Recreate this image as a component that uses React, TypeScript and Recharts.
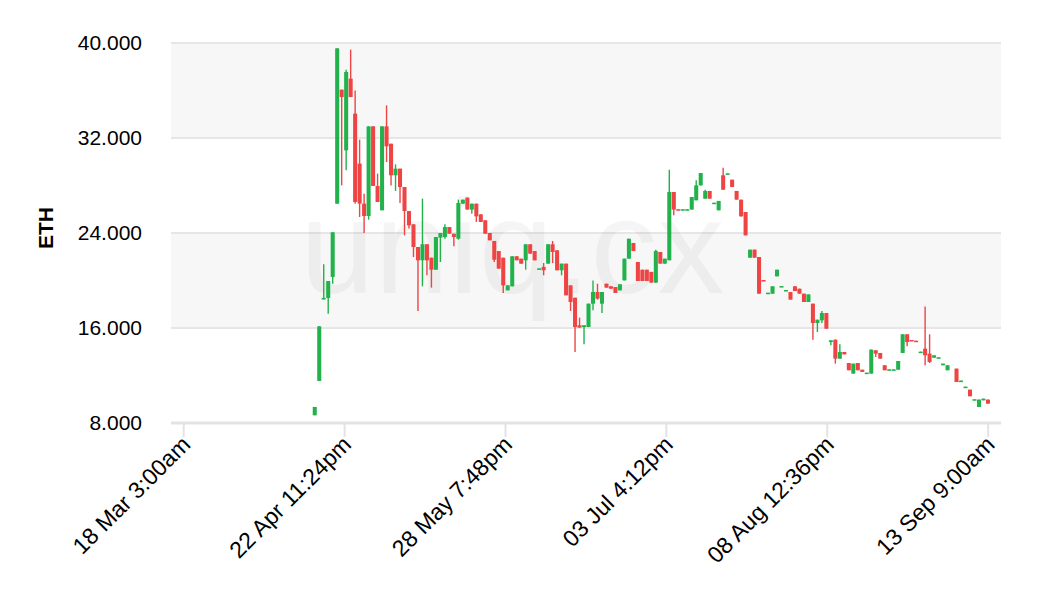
import { ComposedChart, Bar, XAxis, YAxis, CartesianGrid, ReferenceArea, Label } from 'recharts'

// candle days, counted from 18 Mar 3:00am (each candle sits at 9:00am)
const days = [
  29, 30, 31, 32, 33, 34, 35, 36, 37, 38, 39, 40, 41, 42, 43, 44, 45, 46, 47, 48,
  49, 50, 51, 52, 53, 54, 55, 56, 57, 58, 59, 60, 61, 62, 63, 64, 65, 66, 67, 68,
  69, 70, 71, 72, 73, 74, 75, 76, 77, 78, 79, 80, 81, 82, 83, 84, 85, 86, 87, 88,
  89, 90, 91, 92, 93, 94, 95, 96, 97, 98, 99, 100, 101, 102, 103, 104, 105, 106, 107, 108,
  109, 110, 111, 112, 113, 114, 115, 116, 117, 118, 119, 120, 121, 122, 123, 124, 125, 126, 127, 128,
  129, 130, 131, 132, 133, 134, 135, 136, 137, 138, 139, 140, 141, 142, 143, 144, 145, 146, 147, 148,
  149, 150, 151, 152, 153, 154, 155, 156, 157, 158, 159, 160, 161, 162, 163, 164, 165, 166, 167, 168,
  169, 170, 172, 173, 174, 175, 176, 177, 178, 179,
]

const opens = [
  8650, 11540, 18450, 18530, 20300, 26470, 36070, 30960, 37000, 34050, 29840, 26470, 25430, 32980, 27960, 25910, 32980, 31520, 28860, 29420,
  27870, 25850, 24730, 22820, 21700, 23050, 21920, 20910, 23610, 23660, 24500, 23940, 23520, 26470, 26980, 25970, 26470, 25570, 25070, 24000,
  23330, 22480, 21920, 19170, 19510, 22040, 21840, 21700, 23050, 22480, 20970, 21140, 21420, 23050, 22540, 20860, 21420, 19590, 18550, 16230,
  16080, 16080, 18050, 19030, 18050, 19730, 19510, 19450, 19170, 20010, 21840, 23160, 21560, 20910, 20910, 20720, 19820, 22400, 21420, 21700,
  27450, 26000, 25940, 25940, 25970, 26750, 28010, 26890, 27540, 26500, 25910, 28860, 28970, 28490, 27540, 26810, 25770, 21920, 22600, 21980,
  20040, 18920, 18890, 20350, 19480, 19150, 19030, 19510, 19310, 18890, 18190, 18050, 16420, 16650, 17260, 14820, 15020, 13420, 13980, 13050,
  12160, 13050, 12490, 12190, 12160, 14120, 13900, 12860, 12470, 12470, 12490, 13900, 15470, 14990, 14930, 13960, 14260, 13840, 13500, 13480,
  12860, 12440, 12580, 11520, 11010, 10810, 9950, 9350, 9910, 9970,
]

const highs = [
  9350, 16140, 21360, 19960, 24060, 39550, 36070, 37750, 39440, 36010, 31860, 27310, 32980, 32980, 29000, 32980, 34750, 31520, 29780, 29420,
  27870, 25850, 24730, 22820, 26890, 23050, 21920, 23660, 24000, 24730, 24500, 23940, 26810, 26810, 26980, 26470, 26470, 25570, 25070, 24000,
  23330, 22480, 21920, 19590, 22040, 22040, 21840, 23050, 23050, 22480, 21020, 21470, 23050, 23330, 22540, 21420, 21420, 19590, 18550, 16870,
  16230, 18050, 20010, 19730, 19030, 19730, 19510, 19450, 19680, 21840, 23520, 23160, 21560, 20910, 20910, 20720, 22600, 22400, 21840, 29330,
  27450, 26000, 26000, 26000, 27030, 28440, 29050, 27650, 27540, 26550, 26700, 29500, 29020, 28490, 27540, 26810, 25770, 22600, 22600, 21980,
  20040, 18970, 19510, 20910, 19530, 19200, 19030, 19510, 19310, 18890, 18830, 18050, 16700, 17430, 17260, 14960, 15020, 14630, 13980, 13050,
  13000, 13050, 12490, 12240, 14180, 14120, 13900, 12860, 12520, 12520, 13220, 15470, 15470, 14990, 14930, 14010, 17820, 15470, 13700, 13530,
  13000, 12860, 12580, 11570, 11060, 10810, 10000, 9970, 10050, 9970,
]

const lows = [
  8650, 11540, 18390, 17210, 19730, 26470, 28010, 29280, 35450, 26470, 25350, 24000, 25120, 27960, 26610, 25910, 29980, 28010, 27540, 26530,
  23800, 24370, 21980, 17430, 19510, 20440, 19400, 20910, 21560, 23520, 23940, 22880, 23440, 26470, 25970, 25630, 24930, 24930, 23940, 23380,
  21560, 21000, 18950, 19170, 19510, 21700, 21420, 20910, 22260, 21700, 20970, 20440, 21420, 21470, 20860, 20440, 18750, 17430, 13980, 16030,
  14630, 16080, 17490, 18390, 17260, 19400, 19310, 18950, 19170, 20010, 21840, 22480, 19960, 19960, 19960, 19820, 19820, 21420, 21420, 21700,
  25490, 25940, 25940, 25940, 25970, 26750, 28010, 26890, 26890, 26500, 25910, 27650, 28970, 27870, 26810, 25400, 23800, 21920, 21920, 18890,
  19990, 18920, 18890, 20350, 19480, 19150, 18390, 19110, 18890, 18190, 18190, 15020, 15660, 16420, 15940, 14540, 13000, 13420, 13780, 12440,
  12160, 12440, 12300, 12190, 12160, 13560, 13420, 12440, 12470, 12470, 12490, 13900, 14460, 14940, 14880, 13960, 12860, 13050, 13500, 13480,
  12860, 12440, 11450, 11520, 11010, 10250, 9950, 9350, 9910, 9630,
]

const closes = [
  9350, 16140, 18530, 19960, 24060, 39550, 35450, 37560, 35450, 26610, 26470, 25430, 32980, 27960, 26610, 32980, 31300, 28860, 29420, 27870,
  25850, 24650, 22820, 21700, 23050, 21700, 20910, 23660, 24000, 24500, 23940, 23660, 26530, 26810, 25970, 26470, 25400, 24930, 23940, 23380,
  21750, 21000, 19590, 19590, 22040, 21700, 21420, 23050, 22260, 21700, 21020, 20860, 23050, 22400, 20860, 21420, 18750, 18190, 16080, 16030,
  16230, 18050, 19030, 18470, 19030, 19400, 19310, 18950, 19680, 21840, 23520, 22480, 19960, 19960, 19960, 19820, 22480, 21420, 21840, 27450,
  25970, 25940, 26000, 26000, 27030, 28010, 29050, 27540, 26890, 26550, 26700, 27650, 29020, 27870, 26810, 25400, 23800, 22600, 21920, 18890,
  19990, 18970, 19510, 20910, 19530, 19200, 18390, 19110, 18890, 18190, 18830, 16420, 16700, 17260, 15940, 14960, 13420, 13980, 13780, 12440,
  13000, 12440, 12300, 12240, 14180, 13840, 13420, 12440, 12520, 12520, 13220, 15470, 14820, 14940, 14880, 14010, 13700, 13140, 13700, 13530,
  13000, 12860, 11450, 11570, 11060, 10250, 10000, 9970, 10050, 9630,
]

const tickDays = [0, 35.85, 71.7, 107.55, 143.4, 179.25]
const tickLabels = ['18 Mar 3:00am', '22 Apr 11:24pm', '28 May 7:48pm', '03 Jul 4:12pm', '08 Aug 12:36pm', '13 Sep 9:00am']
const priceTicks = [8000, 16000, 24000, 32000, 40000]

const UP = '#21b24b'
const DOWN = '#ee4444'
const FONT = '"Liberation Sans", Arial, Helvetica, sans-serif'

const data = days.map((d, i) => ({
  t: d + 0.25,
  open: opens[i],
  high: highs[i],
  low: lows[i],
  close: closes[i],
}))

const fmtPrice = (v: number) => String(v).replace(/\B(?=(\d{3})+(?!\d))/g, '.')

function Candle(props: any) {
  const { x, y, width, height, payload } = props
  const { open, close, high, low } = payload
  const color = close >= open ? UP : DOWN
  const ratio = high > low ? height / (high - low) : 0
  const cx = x + width / 2
  const top = y + (high - Math.max(open, close)) * ratio
  const bodyH = Math.max(Math.abs(open - close) * ratio, 1.5)
  return (
    <g>
      <line x1={cx} x2={cx} y1={y} y2={y + height} stroke={color} strokeWidth={1.4} />
      <rect x={x} y={top} width={width} height={bodyH} fill={color} />
    </g>
  )
}

function DateTick(props: any) {
  const { x, y, payload } = props
  const label = tickLabels[tickDays.indexOf(payload.value)] ?? ''
  return (
    <g transform={`translate(${x + 8},${y + 7})`}>
      <text textAnchor="end" transform="rotate(-45)" fontSize={23} fontFamily={FONT} fill="#000">
        {label}
      </text>
    </g>
  )
}

function Watermark(props: any) {
  const vb = props.viewBox
  return (
    <text x={vb.x + 129} y={vb.y + 250} fontSize={134} fontFamily={FONT} fill="#000" fillOpacity={0.04}>
      uniq.cx
    </text>
  )
}

function EthLabel(props: any) {
  const vb = props.viewBox
  const cx = vb.x + 37
  const cy = vb.y + vb.height / 2 - 5
  return (
    <text
      x={cx}
      y={cy}
      transform={`rotate(-90 ${cx} ${cy})`}
      textAnchor="middle"
      dominantBaseline="central"
      fontSize={21}
      fontWeight="bold"
      fontFamily={FONT}
      fill="#000"
    >
      ETH
    </text>
  )
}

export default function App() {
  return (
    <ComposedChart width={1024} height={600} data={data} margin={{ top: 35, right: 31, bottom: 0, left: 0 }}>
      <CartesianGrid vertical={false} stroke="#e6e6e6" strokeWidth={2} horizontalFill={['#f7f7f7', '#ffffff']} />
      <ReferenceArea
        x1={-2.83}
        x2={182.11}
        y1={8000}
        y2={40000}
        fill="none"
        stroke="none"
        label={<Watermark />}
      />
      <XAxis
        type="number"
        dataKey="t"
        domain={[-2.83, 182.11]}
        ticks={tickDays}
        allowDataOverflow
        height={185}
        tickSize={14}
        axisLine={{ stroke: '#e3e3e3', strokeWidth: 3 }}
        tickLine={{ stroke: '#e3e3e3', strokeWidth: 2 }}
        tick={<DateTick />}
        interval={0}
      />
      <YAxis
        domain={[8000, 40000]}
        ticks={priceTicks}
        width={163}
        axisLine={false}
        tickLine={false}
        tickMargin={23}
        tickFormatter={fmtPrice}
        tick={{ fontSize: 21, fontFamily: FONT, fill: '#000' }}
      >
        <Label content={<EthLabel />} />
      </YAxis>
      <Bar dataKey={(d: any) => [d.low, d.high]} barSize={5} shape={<Candle />} isAnimationActive={false} />
    </ComposedChart>
  )
}
